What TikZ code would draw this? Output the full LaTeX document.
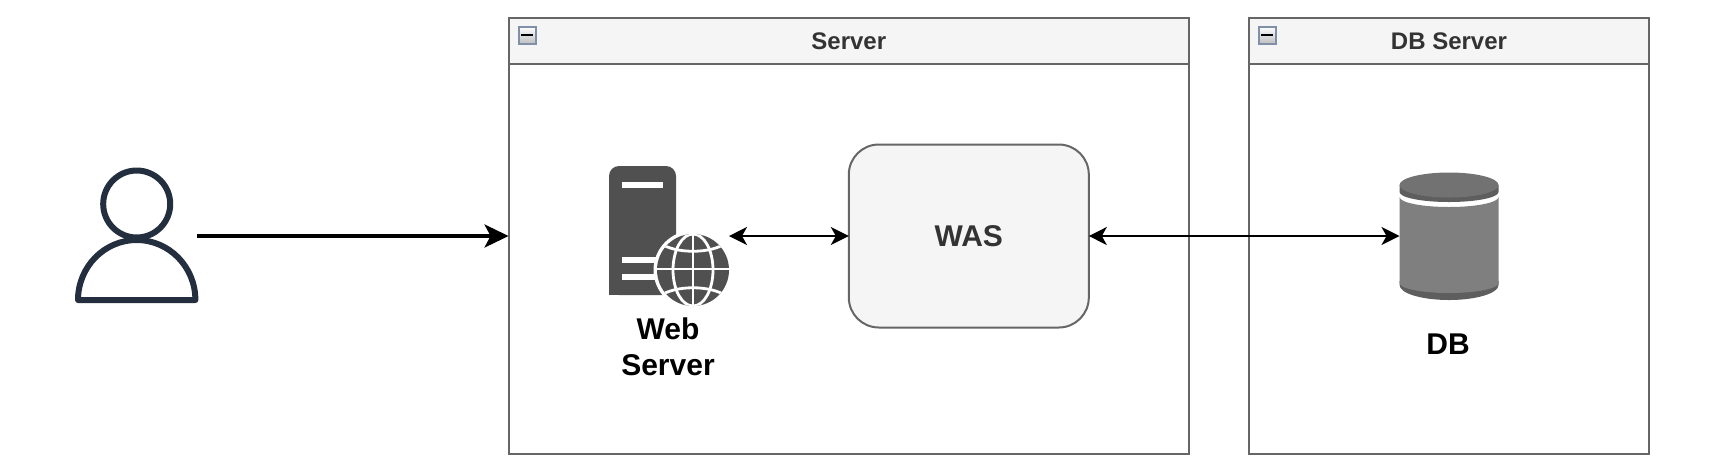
\documentclass[tikz,border=0pt]{standalone}
\usepackage{fontspec}
\setmainfont{Liberation Sans}
\usetikzlibrary{arrows.meta,positioning,calc}
\definecolor{boxline}{HTML}{666666}
\definecolor{boxfill}{HTML}{F5F5F5}
\definecolor{boxtext}{HTML}{333333}
\definecolor{usercol}{HTML}{232F3E}
\definecolor{webcol}{HTML}{505050}
\definecolor{dbbody}{HTML}{7F7F7F}
\definecolor{dbdark}{HTML}{5E5E5E}
\definecolor{dbtop}{HTML}{727272}
\definecolor{togglecol}{HTML}{8090A8}

\begin{document}
\begin{tikzpicture}[
  x=0.5pt, y=-0.5pt,
  frame/.style={draw=boxline, line width=1pt, outer sep=0pt, minimum height=218pt},
  head/.style={draw=boxline, fill=boxfill, line width=1pt, outer sep=0pt, minimum height=23pt, text=boxtext, font=\fontsize{12}{14}\selectfont\bfseries},
  was/.style={draw=boxline, fill=boxfill, line width=1pt, rounded corners=15pt, outer sep=0pt, minimum width=120pt, minimum height=91.5pt, text=boxtext, font=\fontsize{15}{18}\selectfont\bfseries},
  icon/.style={outer sep=0pt, inner sep=0pt},
  caption/.style={align=center, font=\fontsize{15}{18}\selectfont\bfseries},
  toggle/.style={draw=togglecol, line width=1pt, top color=white, bottom color=black!25, inner sep=0pt, minimum size=8.5pt},
  link/.style={<->, line width=1pt},
  >={Stealth[length=9pt,width=9pt,inset=2.5pt]}]
  \useasboundingbox (0,0) rectangle (1732,468);
  \node[frame, minimum width=340.25pt] (srv) at (848.8,236) {};
  \node[head, minimum width=340.25pt, anchor=north] (srvhead) at (srv.north) {Server};
  \node[frame, minimum width=200pt] (dbs) at (1449,236) {};
  \node[head, minimum width=200pt, anchor=north] (dbshead) at (dbs.north) {DB Server};
  \node[toggle] (srvtoggle) at (527,35) {};
  \node[toggle] (dbstoggle) at (1267,35) {};
  \draw[line width=1.2pt] (521,35) -- (533,35);
  \draw[line width=1.2pt] (1261,35) -- (1273,35);

  \node[was] (wasbox) at (968.8,236) {WAS};
  \node[icon, minimum width=61pt, minimum height=68pt] (user) at (136,236) {};
  \node[icon, minimum width=60pt, minimum height=70.5pt] (web) at (669,236) {};
  \node[icon, minimum width=49.5pt, minimum height=63.5pt] (db) at (1449,236) {};
  \node[caption] (weblabel) at (668,347) {Web\\Server};
  \node[caption] (dblabel) at (1448,344) {DB};

  % user
  \draw[usercol, line width=3pt, line join=round] (136.7,204) circle[radius=33.5];
  \draw[usercol, line width=3pt, line join=round] (78,300) arc[start angle=180, end angle=360, x radius=58.7, y radius=60] -- cycle;

  % web server
  \fill[webcol, rounded corners=5pt] (609,295) -- (609,166) -- (676,166) -- (676,295) -- cycle;
  \fill[webcol] (609,281) rectangle (676,295);
  \fill[white] (622,182) rectangle (663,188);
  \fill[white] (622,257) rectangle (680,263);
  \fill[white] (622,274) rectangle (680,280);
  \fill[white] (693,270) circle[radius=39.5];
  \fill[webcol] (693,270) circle[radius=36];
  \begin{scope}[white, line width=1.4pt]
    \clip (693,270) circle[radius=36];
    \draw (693,230) -- (693,310);
    \draw (693,270) ellipse[x radius=20, y radius=36];
    \draw (650,269) -- (736,269);
    \draw (660,243) .. controls (675,254) and (711,254) .. (726,243);
    \draw (660,296) .. controls (675,285) and (711,285) .. (726,296);
  \end{scope}

  % db
  \fill[dbdark] (1399.5,185) -- (1399.5,192) arc[start angle=180, end angle=0, x radius=49.5, y radius=10] -- (1498.5,185) -- cycle;
  \fill[dbtop] (1449,185) ellipse[x radius=49.5, y radius=12.5];
  \fill[dbdark] (1399.5,281) -- (1399.5,285) arc[start angle=180, end angle=0, x radius=49.5, y radius=15] -- (1498.5,281) -- cycle;
  \fill[dbbody] (1399.5,197) arc[start angle=180, end angle=0, x radius=49.5, y radius=10] -- (1498.5,283) arc[start angle=0, end angle=180, x radius=49.5, y radius=10] -- cycle;

  \draw[->, line width=1.75pt, >={Stealth[length=12pt,width=11.5pt,inset=3pt]}] (user.east) -- (srv.west);
  \draw[link] (web.east) -- (wasbox.west);
  \draw[link] (wasbox.east) -- (db.west);
\end{tikzpicture}
\end{document}
